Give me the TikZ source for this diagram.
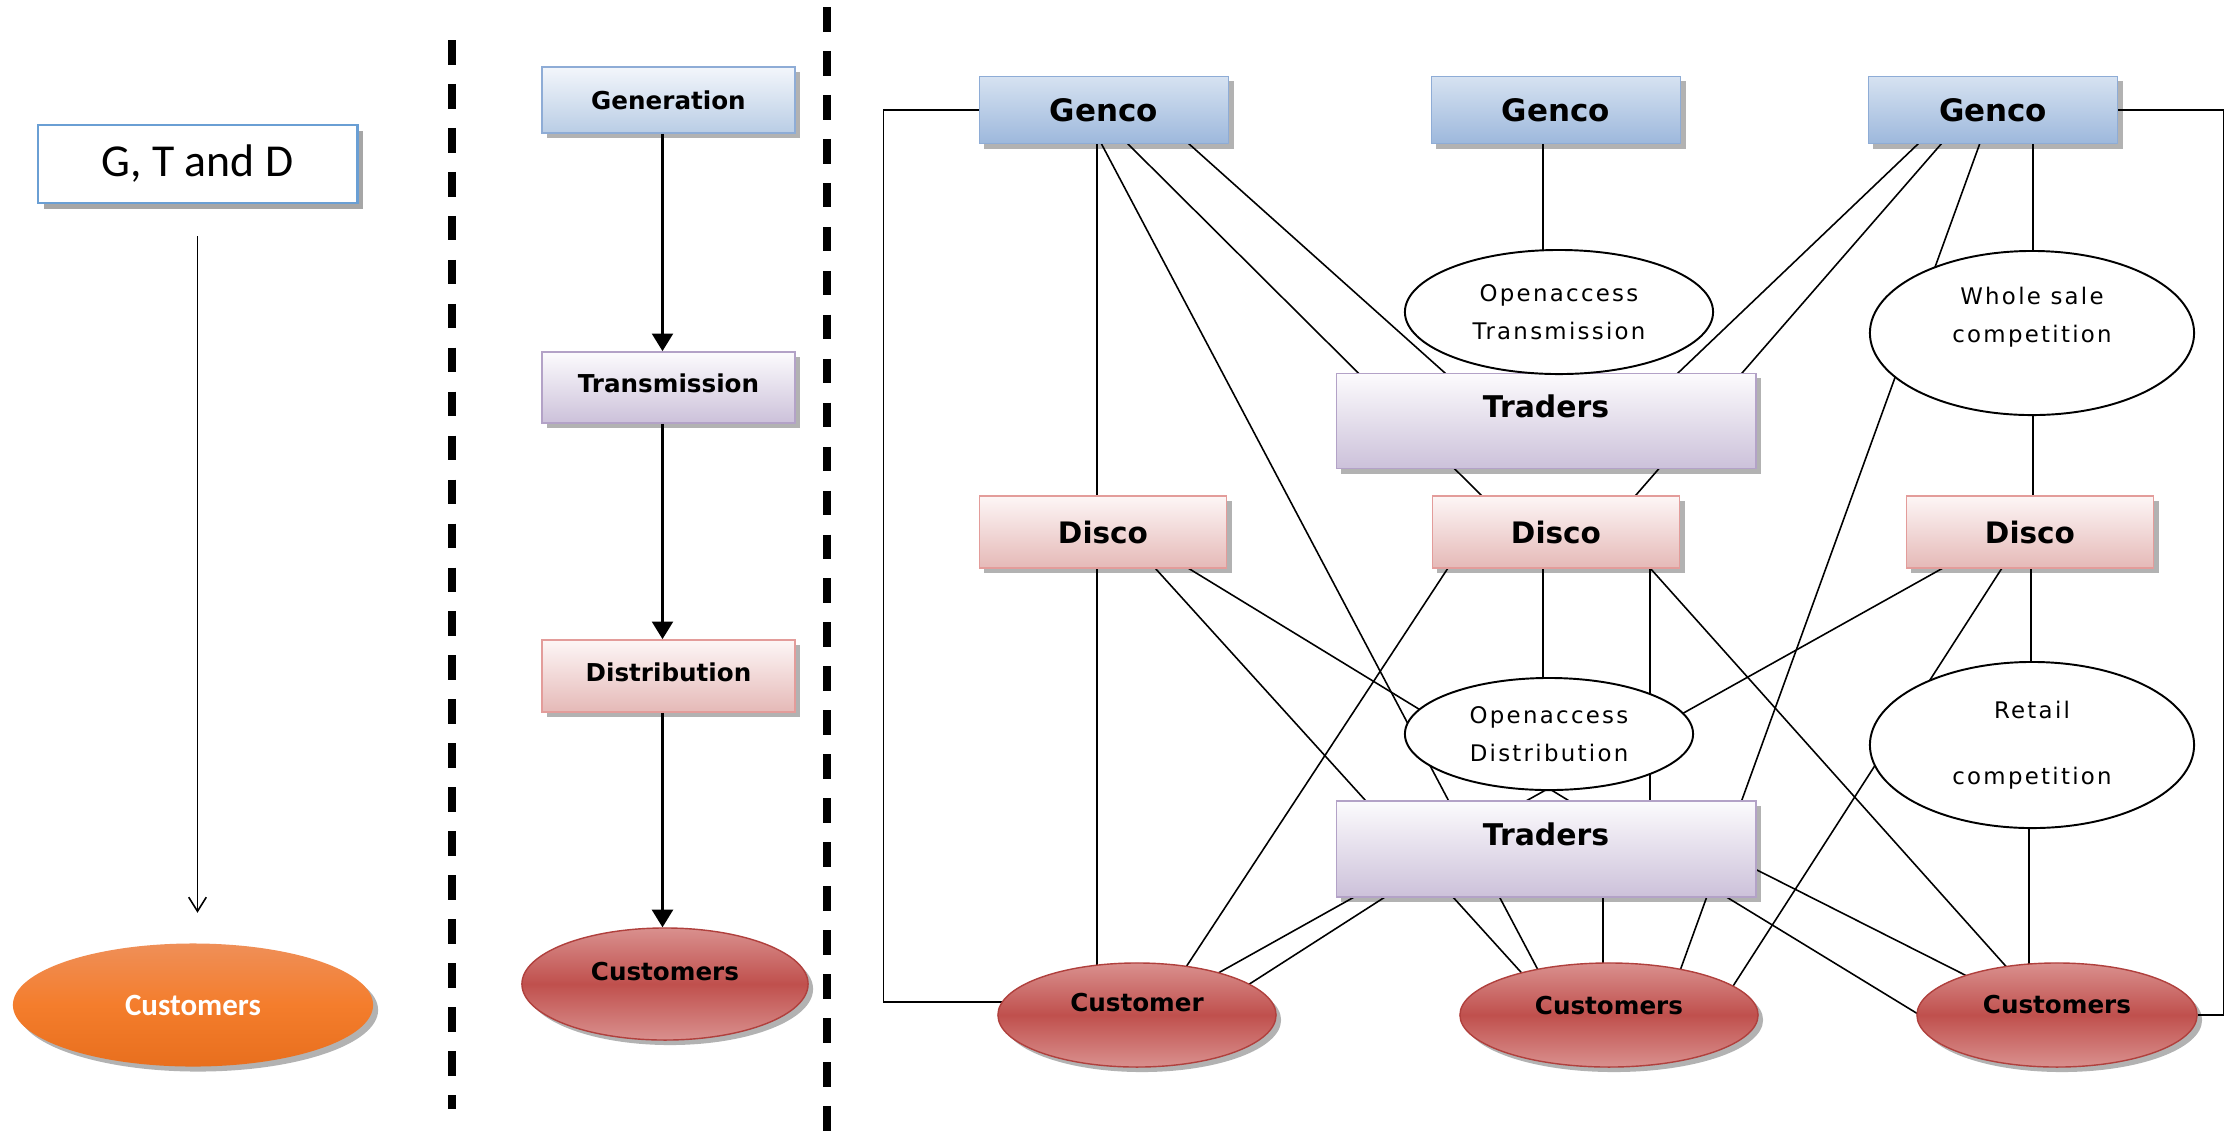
\documentclass[tikz,border=0pt]{standalone}
\usepackage{fontspec}
\setmainfont{DejaVu Sans}
\newfontfamily\boxfont{DejaVu Sans}
\newfontfamily\ellfont{DejaVu Sans}[LetterSpace=10]
\newfontfamily\calfont{Carlito}
\usetikzlibrary{shapes.geometric,shadows,arrows.meta,calc,backgrounds}
\definecolor{gencoT}{HTML}{D6E2F1}
\definecolor{gencoB}{HTML}{9DB8DC}
\definecolor{gencoD}{HTML}{8EACD6}
\definecolor{genT}{HTML}{F3F6FB}
\definecolor{genB}{HTML}{B9CDE5}
\definecolor{purT}{HTML}{FCFBFD}
\definecolor{purB}{HTML}{CCC1DA}
\definecolor{purD}{HTML}{B3A2C7}
\definecolor{pinkT}{HTML}{FDF6F6}
\definecolor{pinkB}{HTML}{E5B9B7}
\definecolor{pinkD}{HTML}{E39C9A}
\definecolor{custL}{HTML}{D9908E}
\definecolor{custM}{HTML}{C0504D}
\definecolor{custD}{HTML}{B0403D}
\definecolor{orT}{HTML}{EF8F58}
\definecolor{orM}{HTML}{F47D2C}
\definecolor{orB}{HTML}{E86F1E}
\definecolor{gtdB}{HTML}{6A9FD4}
\newcommand\upby[2]{\raisebox{#1}[\height][\depth]{#2}}
\begin{document}
\begin{tikzpicture}[x=0.01cm,y=-0.01cm,
  shad/.style={drop shadow={shadow xshift=0.05cm,shadow yshift=-0.05cm,fill=black,opacity=0.3}},
  rbox/.style={rectangle,inner sep=0pt,line width=0.5pt,shad},
  genco/.style={rbox,draw=gencoD,top color=gencoT,bottom color=gencoB,minimum width=2.49cm,minimum height=0.67cm,font=\boxfont\bfseries\fontsize{8.8}{10}\selectfont},
  trader/.style={rbox,draw=purD,top color=purT,bottom color=purB,minimum width=4.19cm,minimum height=0.95cm,font=\boxfont\bfseries\fontsize{8.5}{10}\selectfont},
  disco/.style={rbox,draw=pinkD,top color=pinkT,bottom color=pinkB,minimum width=2.47cm,minimum height=0.72cm,font=\boxfont\bfseries\fontsize{8.4}{10}\selectfont},
  midbox/.style={rbox,minimum width=2.53cm,font=\boxfont\bfseries\fontsize{7}{8}\selectfont},
  oval/.style={ellipse,draw,line width=0.55pt,fill=white,inner sep=0pt,align=center,font=\ellfont\fontsize{6.5}{10.8}\selectfont},
  cust/.style={ellipse,inner sep=0pt,draw=custD,line width=0.4pt,top color=custL,bottom color=custL,middle color=custM,shad,font=\boxfont\bfseries\fontsize{7}{8}\selectfont},
  conn/.style={line width=0.45pt,shorten <=-1.5pt,shorten >=-1.5pt},
  framel/.style={line width=0.5pt},
  sepline/.style={line width=2.2pt,dash pattern=on 7pt off 5.5pt},
  midarrow/.style={line width=0.6pt,-{Triangle[width=6pt,length=5pt]}},
]
\useasboundingbox (0,0) rectangle (2229,1138);

% ---------- left column ----------
\node[rectangle,draw=gtdB,line width=0.8pt,fill=white,minimum width=3.19cm,minimum height=0.78cm,inner sep=0pt,
  drop shadow={shadow xshift=0.06cm,shadow yshift=-0.06cm,opacity=0.35,fill=black},
  font=\calfont\fontsize{13}{15}\selectfont] (gtd) at (197.5,164) {G, T and D};
\node[ellipse,inner sep=0pt,minimum width=3.6cm,minimum height=1.23cm,top color=orT,bottom color=orB,middle color=orM,shad,
  text=white,font=\calfont\bfseries\fontsize{8.8}{10}\selectfont] (cust0) at (193,1005) {Customers};
\draw[line width=0.45pt,shorten <=0.32cm,shorten >=0.3cm,-{Straight Barb[length=4pt,width=5pt]}] (gtd.south) -- (gtd.south |- cust0.north);

% ---------- separators ----------
\coordinate (sa1) at (452,40);
\coordinate (sa2) at (452,1109);
\coordinate (sb1) at (827,7);
\coordinate (sb2) at (827,1138);
\draw[sepline] (sa1) -- (sa2);
\draw[sepline] (sb1) -- (sb2);

% ---------- middle column ----------
\node[midbox,draw=gencoD,top color=genT,bottom color=genB,minimum height=0.66cm] (gen) at (668.5,100) {Generation};
\node[midbox,draw=purD,top color=purT,bottom color=purB,minimum height=0.71cm] (trans) at (668.5,387.5) {\upby{0.04cm}{Transmission}};
\node[midbox,draw=pinkD,top color=pinkT,bottom color=pinkB,minimum height=0.72cm] (distr) at (668.5,676) {\upby{0.04cm}{Distribution}};
\node[cust,minimum width=2.86cm,minimum height=1.12cm] (mcust) at (665,984) {\upby{0.12cm}{Customers}};
\draw[midarrow] ([xshift=-0.06cm]gen.south) -- ([xshift=-0.06cm]trans.north);
\draw[midarrow] ([xshift=-0.06cm]trans.south) -- ([xshift=-0.06cm]distr.north);
\draw[midarrow] ([xshift=-0.06cm]distr.south) -- ([xshift=-0.06cm]distr.south |- mcust.north);

% ---------- right section nodes ----------
\node[genco] (g1) at (1104,110) {Genco};
\node[genco] (g2) at (1556,110) {Genco};
\node[genco] (g3) at (1993,110) {Genco};
\node[trader] (t1) at (1546,421) {\upby{0.15cm}{Traders}};
\node[trader,minimum height=0.96cm] (t2) at (1546,849) {\upby{0.15cm}{Traders}};
\node[disco] (d1) at (1103,532) {Disco};
\node[disco] (d2) at (1556,532) {Disco};
\node[disco] (d3) at (2030,532) {Disco};
\node[oval,minimum width=3.08cm,minimum height=1.24cm] (oat) at (1559,312) {Openaccess\\Transmission};
\node[oval,minimum width=3.24cm,minimum height=1.64cm] (ws) at (2032,333)
  {\upby{0.17cm}{\begin{tabular}{@{}c@{}}Whole sale\\competition\end{tabular}}};
\node[oval,minimum width=2.88cm,minimum height=1.12cm] (oad) at (1549,734) {Openaccess\\Distribution};
\node[oval,minimum width=3.24cm,minimum height=1.66cm] (rc) at (2032,745) {Retail\\[8pt]competition};
\node[cust,minimum width=2.78cm,minimum height=1.04cm] (c1) at (1137,1015) {\upby{0.12cm}{Customer}};
\node[cust,minimum width=2.98cm,minimum height=1.04cm] (c2) at (1609,1015) {\upby{0.09cm}{Customers}};
\node[cust,minimum width=2.80cm,minimum height=1.04cm] (c3) at (2057,1015) {\upby{0.10cm}{Customers}};

% ---------- connectors (behind nodes) ----------
\begin{pgfonlayer}{background}
\fill[white] (0,0) rectangle (2229,1138);
% frame lines
\draw[framel] (g1.west) -- ++(-95,0) |- ($(c1.west)+(6,-13)$);
\draw[framel] (g3.east) -- ++(105,0) |- (c3.east);
% verticals
\draw[conn] ($(g1.center)+(-7,33)$) -- ($(d1.center)+(-6,-36)$);
\draw[conn] ($(d1.center)+(-6,36)$) -- ($(c1.center)+(-40,-50)$);
\draw[conn] ($(g2.center)+(-13,33)$) -- ($(oat.center)+(-16,-62)$);
\draw[conn] ($(g3.center)+(40,33)$) -- ($(ws.center)+(1,-82)$);
\draw[conn] ($(ws.center)+(1,82)$) -- ($(d3.center)+(3,-36)$);
\draw[conn] ($(d2.center)+(-13,36)$) -- ($(oad.center)+(-6,-56)$);
\draw[conn] ($(d2.center)+(94,36)$) -- ($(t2.center)+(104,-48)$);
\draw[conn] ($(d3.center)+(1,36)$) -- ($(rc.center)+(-1,-83)$);
\draw[conn] ($(rc.center)+(-3,83)$) -- ($(c3.center)+(-28,-52)$);
\draw[conn] ($(t2.center)+(57,48)$) -- ($(c2.center)+(-6,-52)$);
% Genco diagonals
\draw[conn] ($(g1.center)+(-3,33)$) -- ($(c2.center)+(-72,-47)$);
\draw[conn] ($(g1.center)+(23,33)$) -- ($(d2.center)+(-75,-37)$);
\draw[conn] ($(g1.center)+(84,33)$) -- ($(t1.center)+(-101,-48)$);
\draw[conn] ($(g3.center)+(-74,33)$) -- ($(t1.center)+(132,-48)$);
\draw[conn] ($(g3.center)+(-51,33)$) -- ($(d2.center)+(80,-37)$);
\draw[conn] ($(g3.center)+(-13,33)$) -- ($(c2.center)+(72,-47)$);
% Disco diagonals
\draw[conn] ($(d1.center)+(52,36)$) -- ($(c2.center)+(-90,-45)$);
\draw[conn] ($(d1.center)+(85,36)$) -- ($(c3.center)+(-139,-1)$);
\draw[conn] ($(d2.center)+(-108,36)$) -- ($(c1.center)+(51,-51)$);
\draw[conn] ($(d2.center)+(94,36)$) -- ($(c3.center)+(-54,-52)$);
\draw[conn] ($(d3.center)+(-87,36)$) -- ($(c1.center)+(83,-43)$);
\draw[conn] ($(d3.center)+(-28,36)$) -- ($(c2.center)+(126,-32)$);
% Traders to customers
\draw[conn] ($(t2.center)+(-161,48)$) -- ($(c1.center)+(114,-32)$);
\draw[conn] ($(t2.center)+(211,21)$) -- ($(c3.center)+(-94,-41)$);
\end{pgfonlayer}
\end{tikzpicture}
\end{document}
